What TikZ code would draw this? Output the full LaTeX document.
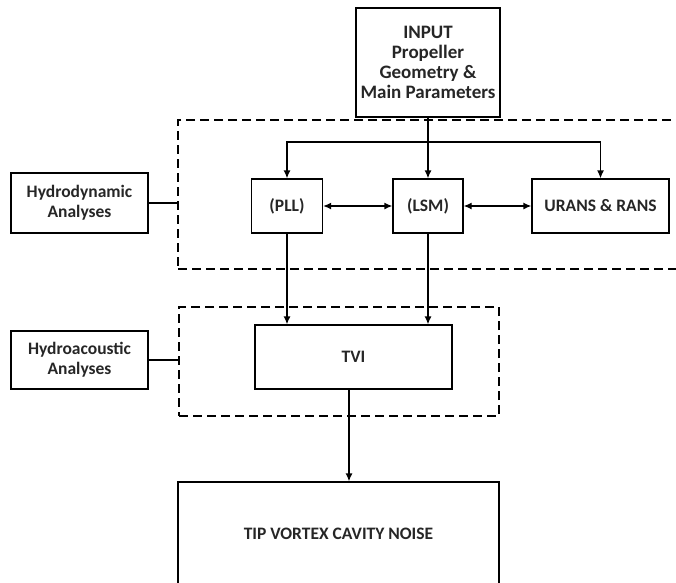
\documentclass[tikz,border=0pt]{standalone}
\usepackage{fontspec}
\setmainfont{Carlito}
\usepackage{tikz}
\usetikzlibrary{arrows.meta,positioning}

\begin{document}
\begin{tikzpicture}[x=1pt,y=-1pt,
  every node/.style={font=\fontsize{17.5}{20}\selectfont\bfseries,text=black!85,align=center,inner sep=0pt},
  blk/.style={draw=black,line width=1.3pt,minimum width=#1},
  zone/.style={draw=black,line width=1.3pt,dash pattern=on 9pt off 5pt},
  arr/.style={line width=1.3pt,-{Latex[length=8pt,width=7pt]}},
  dbl/.style={line width=1.3pt,{Latex[length=8pt,width=7pt]}-{Latex[length=8pt,width=7pt]}}]
\useasboundingbox (0,0) rectangle (676,582);
\clip (0,0) rectangle (676,582);
% dashed groups
\node [zone,minimum width=522pt,minimum height=149pt] (dynzone) at (439,194.5) {};
\node [zone,minimum width=320pt,minimum height=109pt] (aczone) at (339,361.5) {};
% blocks
\node [blk=144pt,minimum height=109pt,font=\fontsize{19}{20}\selectfont\bfseries] (input) at (428,62.5) {INPUT\\Propeller\\Geometry \&\\Main Parameters};
\node [blk=71pt,minimum height=54pt] (pll) at (287,206) {(PLL)};
\node [blk=70pt,minimum height=54pt] (lsm) at (428,206) {(LSM)};
\node [blk=137pt,minimum height=54pt] (urans) at (600.5,206) {URANS \& RANS};
\node [blk=137pt,minimum height=60pt] (hdyn) at (79.5,203) {Hydrodynamic\\Analyses};
\node [blk=197pt,minimum height=64pt] (tvi) at (353.5,357) {TVI};
\node [blk=137pt,minimum height=58pt] (hac) at (79.5,360) {Hydroacoustic\\Analyses};
\node [blk=321pt,minimum height=104pt] (noise) at (338.5,534) {TIP VORTEX CAVITY NOISE};
% labels to groups
\draw [line width=1.3pt] (hdyn.east) -- (hdyn.east -| dynzone.west);
\draw [line width=1.3pt] (hac.east) -- (hac.east -| aczone.west);
% input split
\coordinate (split) at (428,142);
\draw [arr] (input.south) -- (lsm.north);
\draw [arr] (split) -| (pll.north);
\draw [arr] (split) -| (urans.north);
\draw [dbl] (pll.east) -- (lsm.west);
\draw [dbl] (lsm.east) -- (urans.west);
% down to TVI and noise
\draw [arr] (pll.south) -- (pll.south |- tvi.north);
\draw [arr] (lsm.south) -- (lsm.south |- tvi.north);
\coordinate (tviout) at ([xshift=-4.5pt]tvi.south);
\draw [arr] (tviout) -- (tviout |- noise.north);
\end{tikzpicture}
\end{document}
